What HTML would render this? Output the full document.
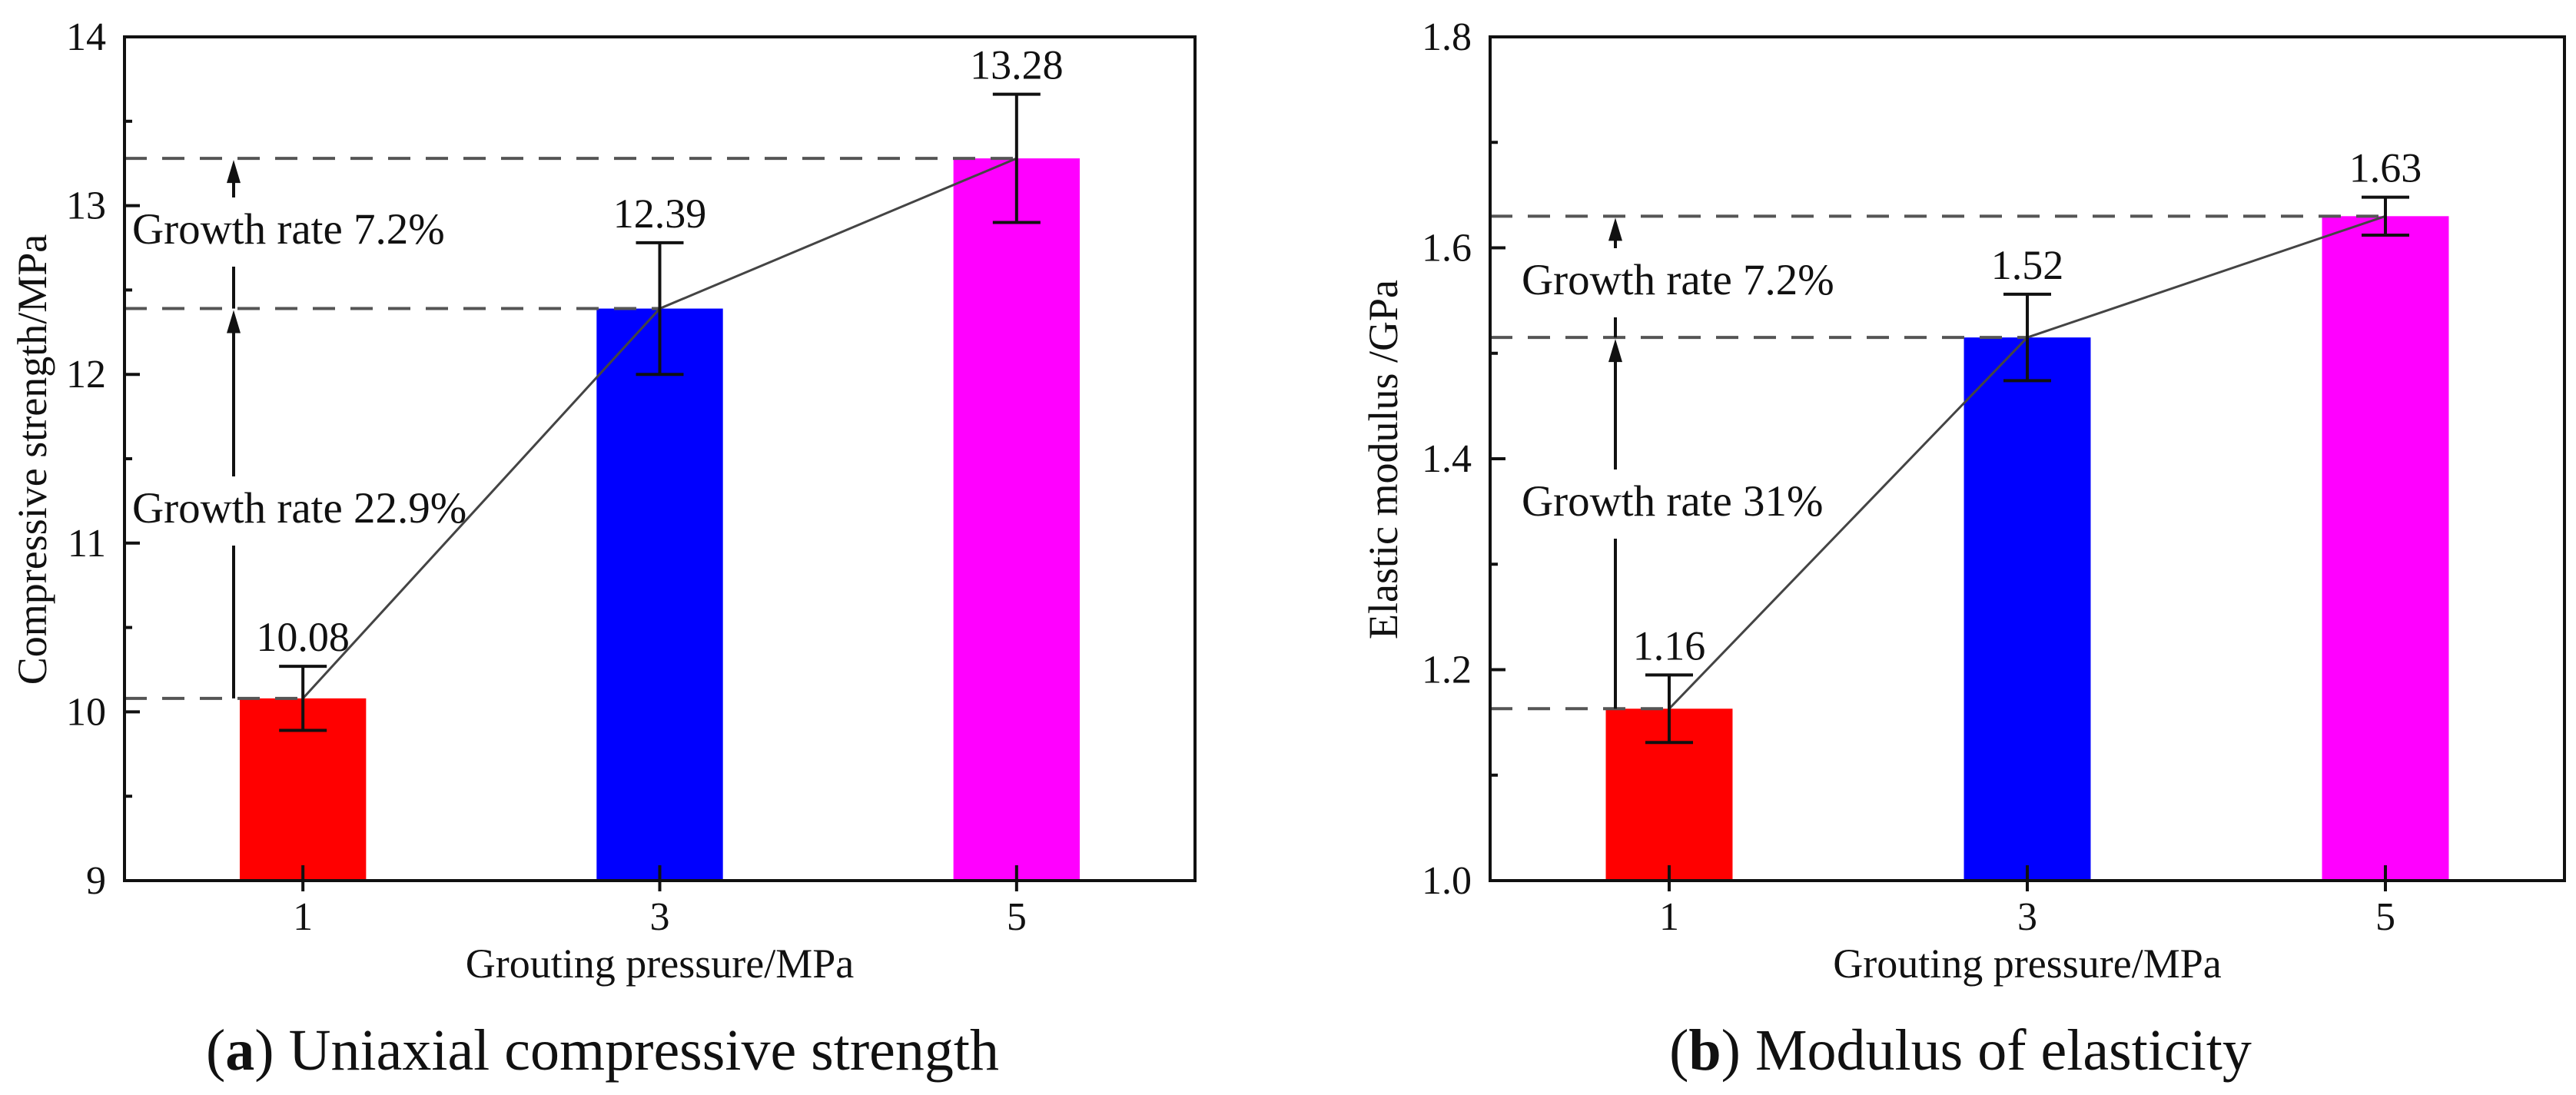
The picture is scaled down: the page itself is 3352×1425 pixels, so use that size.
<!DOCTYPE html>
<html><head><meta charset="utf-8"><style>
html,body{margin:0;padding:0;background:#fff;}
svg{display:block;}
text{font-family:"Liberation Serif","DejaVu Serif",serif;fill:#111;}
</style></head><body>
<svg id="fig" width="3352" height="1425" viewBox="0 0 3352 1425" xmlns="http://www.w3.org/2000/svg"></svg>
<script>
// ---- Chart (a) data ----
const categoriesA = ["1","3","5"];
const valuesA = [10.08, 12.39, 13.28];
const errorsA = [0.19, 0.39, 0.38];
const valueLabelsA = ["10.08","12.39","13.28"];
const yTicksA = [9,10,11,12,13,14];
const yTickLabelsA = ["9","10","11","12","13","14"];
const growthLabelsA = ["Growth rate 22.9%","Growth rate 7.2%"];
// ---- Chart (b) data ----
const categoriesB = ["1","3","5"];
const valuesB = [1.163, 1.515, 1.63];
const errorsB = [0.032, 0.041, 0.018];
const valueLabelsB = ["1.16","1.52","1.63"];
const yTicksB = [1.0,1.2,1.4,1.6,1.8];
const yTickLabelsB = ["1.0","1.2","1.4","1.6","1.8"];
const growthLabelsB = ["Growth rate 31%","Growth rate 7.2%"];
const barColors = ["#ff0000","#0000ff","#ff00ff"];

const NS="http://www.w3.org/2000/svg";
const svg=document.getElementById('fig');
function mk(tag,attrs,parent){const e=document.createElementNS(NS,tag);for(const k in attrs)e.setAttribute(k,attrs[k]);(parent||svg).appendChild(e);return e;}

function drawChart(o){
  const g=mk('g',{});
  
  
  const L=o.left,R=o.right,T=48,B=1146;
  const ymin=o.yTicks[0],ymax=o.yTicks[o.yTicks.length-1];
  const y=v=>B-(v-ymin)/(ymax-ymin)*(B-T);
  const n=o.cats.length;
  const x=i=>L+(R-L)*(i+0.5)/n;
  const bw=(R-L)*0.118;
  // bars
  o.vals.forEach((v,i)=>{
    const r=mk('rect',{x:x(i)-bw/2,y:y(v),width:bw,height:B-y(v),fill:barColors[i]},g);
    
    
  });
  // dashed reference lines
  o.vals.forEach((v,i)=>{
    const d=mk('line',{x1:L,x2:x(i),y1:y(v),y2:y(v),stroke:'#555','stroke-width':4,'stroke-dasharray':'29 20'},g);
    
    
  });
  // connecting line
  const pl=mk('polyline',{points:o.vals.map((v,i)=>x(i)+','+y(v)).join(' '),fill:'none',stroke:'#444','stroke-width':3},g);
  
  
  // error bars
  o.vals.forEach((v,i)=>{
    const e=o.errs[i],cx=x(i),cw=31;
    const eg=mk('g',{stroke:'#111','stroke-width':4},g);
    
    
    mk('line',{x1:cx,x2:cx,y1:y(v+e),y2:y(v-e)},eg);
    mk('line',{x1:cx-cw,x2:cx+cw,y1:y(v+e),y2:y(v+e)},eg);
    mk('line',{x1:cx-cw,x2:cx+cw,y1:y(v-e),y2:y(v-e)},eg);
    const t=mk('text',{x:cx,y:y(v+e)-20,'font-size':54,'text-anchor':'middle'},g);
    t.textContent=o.vlabels[i];
    
    
  });
  // growth arrows
  const ax=o.arrowX;
  for(let k=0;k<2;k++){
    const v0=o.vals[k],v1=o.vals[k+1];
    const ag=mk('g',{},g);
    
    
    const ly=o.labelY[k];
    mk('line',{x1:ax,x2:ax,y1:y(v0),y2:ly+30,stroke:'#111','stroke-width':4},ag);
    mk('line',{x1:ax,x2:ax,y1:ly-60,y2:y(v1)+28,stroke:'#111','stroke-width':4},ag);
    mk('polygon',{points:(ax-9)+','+(y(v1)+32)+' '+(ax+9)+','+(y(v1)+32)+' '+ax+','+(y(v1)+2),fill:'#111'},ag);
    const t=mk('text',{x:o.labelX,y:ly,'font-size':57},g);
    t.textContent=o.glabels[k];
    
    
  }
  // axes frame
  const fr=mk('rect',{x:L,y:T,width:R-L,height:B-T,fill:'none',stroke:'#111','stroke-width':4},g);
  
  
  // y ticks
  o.yTicks.forEach((v,i)=>{
    mk('line',{x1:L,x2:L+20,y1:y(v),y2:y(v),stroke:'#111','stroke-width':4},g);
    if(i<o.yTicks.length-1){const m=(v+o.yTicks[i+1])/2;mk('line',{x1:L,x2:L+10,y1:y(m),y2:y(m),stroke:'#111','stroke-width':4},g);}
    const t=mk('text',{x:L-24,y:y(v)+17,'font-size':52,'text-anchor':'end'},g);
    t.textContent=o.yLabels[i];
    
    
  });
  // x ticks
  o.cats.forEach((c,i)=>{
    mk('line',{x1:x(i),x2:x(i),y1:B-20,y2:B+14,stroke:'#111','stroke-width':4},g);
    const t=mk('text',{x:x(i),y:1210,'font-size':52,'text-anchor':'middle'},g);
    t.textContent=c;
    
    
  });
  const xt=mk('text',{x:(L+R)/2,y:1272,'font-size':54,'text-anchor':'middle'},g);
  xt.textContent='Grouting pressure/MPa';
  
  
  const yt=mk('text',{x:0,y:0,'font-size':54,'text-anchor':'middle',transform:'translate('+o.yTitleX+','+o.yTitleY+') rotate(-90)'},g);
  yt.textContent=o.yTitle;
  
  
  const cap=mk('text',{x:o.capX,y:1392,'font-size':76,'text-anchor':'middle'},g);
  cap.innerHTML='(<tspan font-weight="bold">'+o.capLetter+'</tspan>) '+o.capText;
  
  
}
drawChart({name:'chart-compressive-strength',left:162,right:1555,cats:categoriesA,vals:valuesA,errs:errorsA,vlabels:valueLabelsA,yTicks:yTicksA,yLabels:yTickLabelsA,glabels:growthLabelsA,arrowX:304,labelX:172,labelY:[680,317],yTitle:'Compressive strength/MPa',yTitleX:60,yTitleY:598,capX:784,capLetter:'a',capText:'Uniaxial compressive strength'});
drawChart({name:'chart-elastic-modulus',left:1939,right:3337,cats:categoriesB,vals:valuesB,errs:errorsB,vlabels:valueLabelsB,yTicks:yTicksB,yLabels:yTickLabelsB,glabels:growthLabelsB,arrowX:2102,labelX:1980,labelY:[671,383],yTitle:'Elastic modulus /GPa',yTitleX:1818,yTitleY:598,capX:2551,capLetter:'b',capText:'Modulus of elasticity'});
</script>
</body></html>
